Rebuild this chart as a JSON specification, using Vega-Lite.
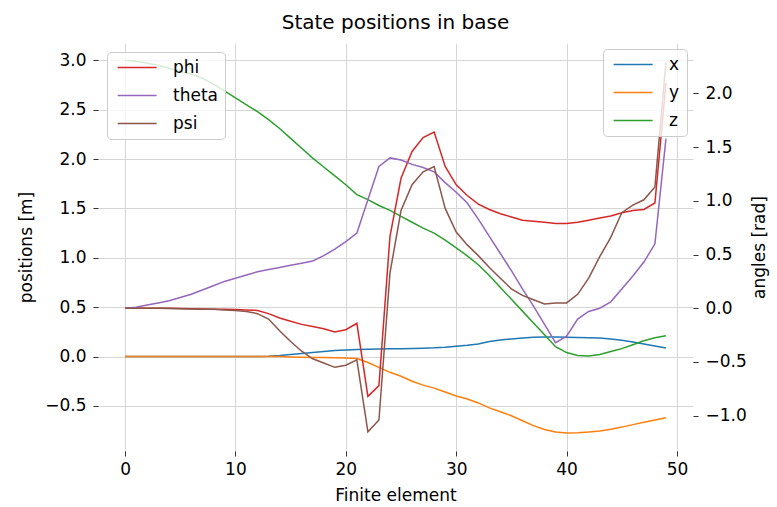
{
  "$schema": "https://vega.github.io/schema/vega-lite/v6.json",
  "width": 595,
  "height": 408,
  "autosize": {"type": "none"},
  "padding": {"left": 98, "top": 43, "right": 84, "bottom": 56},
  "background": "white",
  "title": {"text": "State positions in base", "fontSize": 20, "font": "DejaVu Sans", "fontWeight": "normal", "color": "#000000", "offset": 10},
  "config": {
    "view": {"stroke": null},
    "font": "DejaVu Sans",
    "axis": {
      "labelFont": "DejaVu Sans", "labelFontSize": 17, "labelColor": "#000000",
      "titleFont": "DejaVu Sans", "titleFontSize": 17, "titleFontWeight": "normal", "titleColor": "#000000",
      "domain": false, "tickColor": "#333333", "tickSize": 5, "tickWidth": 1,
      "gridColor": "#d6d6d6", "gridWidth": 1, "labelPadding": 6
    },
    "legend": {
      "labelFont": "DejaVu Sans", "labelFontSize": 17, "labelColor": "#000000",
      "fillColor": "rgba(255,255,255,0.8)", "strokeColor": "#cccccc", "cornerRadius": 4,
      "padding": 7, "offset": 9, "symbolType": "M-1,0H7", "symbolSize": 95, "symbolStrokeWidth": 1.5,
      "labelOffset": 42, "rowPadding": 10
    }
  },
  "datasets": {
    "pos": [
      {"e":0,"s":"x","v":0},{"e":1,"s":"x","v":0},{"e":2,"s":"x","v":0},{"e":3,"s":"x","v":0},{"e":4,"s":"x","v":0},{"e":5,"s":"x","v":0},{"e":6,"s":"x","v":0},{"e":7,"s":"x","v":0},{"e":8,"s":"x","v":0},{"e":9,"s":"x","v":0},
      {"e":10,"s":"x","v":0},{"e":11,"s":"x","v":0},{"e":12,"s":"x","v":0},{"e":13,"s":"x","v":0.003},{"e":14,"s":"x","v":0.01},{"e":15,"s":"x","v":0.02},{"e":16,"s":"x","v":0.03},{"e":17,"s":"x","v":0.04},{"e":18,"s":"x","v":0.05},{"e":19,"s":"x","v":0.06},
      {"e":20,"s":"x","v":0.066},{"e":21,"s":"x","v":0.07},{"e":22,"s":"x","v":0.073},{"e":23,"s":"x","v":0.076},{"e":24,"s":"x","v":0.078},{"e":25,"s":"x","v":0.08},{"e":26,"s":"x","v":0.082},{"e":27,"s":"x","v":0.085},{"e":28,"s":"x","v":0.088},{"e":29,"s":"x","v":0.095},
      {"e":30,"s":"x","v":0.105},{"e":31,"s":"x","v":0.115},{"e":32,"s":"x","v":0.128},{"e":33,"s":"x","v":0.152},{"e":34,"s":"x","v":0.167},{"e":35,"s":"x","v":0.178},{"e":36,"s":"x","v":0.188},{"e":37,"s":"x","v":0.195},{"e":38,"s":"x","v":0.198},{"e":39,"s":"x","v":0.198},
      {"e":40,"s":"x","v":0.195},{"e":41,"s":"x","v":0.193},{"e":42,"s":"x","v":0.19},{"e":43,"s":"x","v":0.187},{"e":44,"s":"x","v":0.178},{"e":45,"s":"x","v":0.165},{"e":46,"s":"x","v":0.148},{"e":47,"s":"x","v":0.128},{"e":48,"s":"x","v":0.107},{"e":49,"s":"x","v":0.086},

      {"e":0,"s":"y","v":0},{"e":1,"s":"y","v":0},{"e":2,"s":"y","v":0},{"e":3,"s":"y","v":0},{"e":4,"s":"y","v":0},{"e":5,"s":"y","v":0},{"e":6,"s":"y","v":0},{"e":7,"s":"y","v":0},{"e":8,"s":"y","v":0},{"e":9,"s":"y","v":0},
      {"e":10,"s":"y","v":0},{"e":11,"s":"y","v":0},{"e":12,"s":"y","v":0},{"e":13,"s":"y","v":0},{"e":14,"s":"y","v":0},{"e":15,"s":"y","v":-0.005},{"e":16,"s":"y","v":-0.008},{"e":17,"s":"y","v":-0.01},{"e":18,"s":"y","v":-0.01},{"e":19,"s":"y","v":-0.012},
      {"e":20,"s":"y","v":-0.015},{"e":21,"s":"y","v":-0.02},{"e":22,"s":"y","v":-0.06},{"e":23,"s":"y","v":-0.11},{"e":24,"s":"y","v":-0.16},{"e":25,"s":"y","v":-0.2},{"e":26,"s":"y","v":-0.25},{"e":27,"s":"y","v":-0.29},{"e":28,"s":"y","v":-0.32},{"e":29,"s":"y","v":-0.36},
      {"e":30,"s":"y","v":-0.4},{"e":31,"s":"y","v":-0.43},{"e":32,"s":"y","v":-0.47},{"e":33,"s":"y","v":-0.52},{"e":34,"s":"y","v":-0.56},{"e":35,"s":"y","v":-0.6},{"e":36,"s":"y","v":-0.65},{"e":37,"s":"y","v":-0.7},{"e":38,"s":"y","v":-0.74},{"e":39,"s":"y","v":-0.765},
      {"e":40,"s":"y","v":-0.775},{"e":41,"s":"y","v":-0.772},{"e":42,"s":"y","v":-0.765},{"e":43,"s":"y","v":-0.755},{"e":44,"s":"y","v":-0.737},{"e":45,"s":"y","v":-0.715},{"e":46,"s":"y","v":-0.69},{"e":47,"s":"y","v":-0.665},{"e":48,"s":"y","v":-0.642},{"e":49,"s":"y","v":-0.62},

      {"e":0,"s":"z","v":3.0},{"e":1,"s":"z","v":2.99},{"e":2,"s":"z","v":2.97},{"e":3,"s":"z","v":2.95},{"e":4,"s":"z","v":2.92},{"e":5,"s":"z","v":2.89},{"e":6,"s":"z","v":2.86},{"e":7,"s":"z","v":2.82},{"e":8,"s":"z","v":2.76},{"e":9,"s":"z","v":2.69},
      {"e":10,"s":"z","v":2.62},{"e":11,"s":"z","v":2.55},{"e":12,"s":"z","v":2.48},{"e":13,"s":"z","v":2.4},{"e":14,"s":"z","v":2.31},{"e":15,"s":"z","v":2.21},{"e":16,"s":"z","v":2.11},{"e":17,"s":"z","v":2.01},{"e":18,"s":"z","v":1.92},{"e":19,"s":"z","v":1.83},
      {"e":20,"s":"z","v":1.74},{"e":21,"s":"z","v":1.64},{"e":22,"s":"z","v":1.59},{"e":23,"s":"z","v":1.53},{"e":24,"s":"z","v":1.48},{"e":25,"s":"z","v":1.42},{"e":26,"s":"z","v":1.36},{"e":27,"s":"z","v":1.3},{"e":28,"s":"z","v":1.25},{"e":29,"s":"z","v":1.18},
      {"e":30,"s":"z","v":1.1},{"e":31,"s":"z","v":1.02},{"e":32,"s":"z","v":0.93},{"e":33,"s":"z","v":0.82},{"e":34,"s":"z","v":0.7},{"e":35,"s":"z","v":0.58},{"e":36,"s":"z","v":0.46},{"e":37,"s":"z","v":0.34},{"e":38,"s":"z","v":0.22},{"e":39,"s":"z","v":0.1},
      {"e":40,"s":"z","v":0.04},{"e":41,"s":"z","v":0.01},{"e":42,"s":"z","v":0.005},{"e":43,"s":"z","v":0.02},{"e":44,"s":"z","v":0.05},{"e":45,"s":"z","v":0.08},{"e":46,"s":"z","v":0.12},{"e":47,"s":"z","v":0.16},{"e":48,"s":"z","v":0.19},{"e":49,"s":"z","v":0.21}
    ],
    "ang": [
      {"e":0,"s":"phi","v":0},{"e":1,"s":"phi","v":0},{"e":2,"s":"phi","v":0},{"e":3,"s":"phi","v":0},{"e":4,"s":"phi","v":0},{"e":5,"s":"phi","v":-0.002},{"e":6,"s":"phi","v":-0.004},{"e":7,"s":"phi","v":-0.006},{"e":8,"s":"phi","v":-0.008},{"e":9,"s":"phi","v":-0.01},
      {"e":10,"s":"phi","v":-0.012},{"e":11,"s":"phi","v":-0.015},{"e":12,"s":"phi","v":-0.02},{"e":13,"s":"phi","v":-0.05},{"e":14,"s":"phi","v":-0.09},{"e":15,"s":"phi","v":-0.12},{"e":16,"s":"phi","v":-0.15},{"e":17,"s":"phi","v":-0.17},{"e":18,"s":"phi","v":-0.19},{"e":19,"s":"phi","v":-0.22},
      {"e":20,"s":"phi","v":-0.2},{"e":21,"s":"phi","v":-0.14},{"e":22,"s":"phi","v":-0.82},{"e":23,"s":"phi","v":-0.72},{"e":24,"s":"phi","v":0.67},{"e":25,"s":"phi","v":1.21},{"e":26,"s":"phi","v":1.46},{"e":27,"s":"phi","v":1.59},{"e":28,"s":"phi","v":1.64},{"e":29,"s":"phi","v":1.32},
      {"e":30,"s":"phi","v":1.15},{"e":31,"s":"phi","v":1.05},{"e":32,"s":"phi","v":0.97},{"e":33,"s":"phi","v":0.92},{"e":34,"s":"phi","v":0.88},{"e":35,"s":"phi","v":0.85},{"e":36,"s":"phi","v":0.82},{"e":37,"s":"phi","v":0.81},{"e":38,"s":"phi","v":0.8},{"e":39,"s":"phi","v":0.79},
      {"e":40,"s":"phi","v":0.79},{"e":41,"s":"phi","v":0.8},{"e":42,"s":"phi","v":0.82},{"e":43,"s":"phi","v":0.84},{"e":44,"s":"phi","v":0.86},{"e":45,"s":"phi","v":0.89},{"e":46,"s":"phi","v":0.91},{"e":47,"s":"phi","v":0.92},{"e":48,"s":"phi","v":0.98},{"e":49,"s":"phi","v":2.1},

      {"e":0,"s":"theta","v":0},{"e":1,"s":"theta","v":0.01},{"e":2,"s":"theta","v":0.03},{"e":3,"s":"theta","v":0.05},{"e":4,"s":"theta","v":0.07},{"e":5,"s":"theta","v":0.1},{"e":6,"s":"theta","v":0.13},{"e":7,"s":"theta","v":0.17},{"e":8,"s":"theta","v":0.21},{"e":9,"s":"theta","v":0.25},
      {"e":10,"s":"theta","v":0.28},{"e":11,"s":"theta","v":0.31},{"e":12,"s":"theta","v":0.34},{"e":13,"s":"theta","v":0.36},{"e":14,"s":"theta","v":0.38},{"e":15,"s":"theta","v":0.4},{"e":16,"s":"theta","v":0.42},{"e":17,"s":"theta","v":0.44},{"e":18,"s":"theta","v":0.49},{"e":19,"s":"theta","v":0.55},
      {"e":20,"s":"theta","v":0.62},{"e":21,"s":"theta","v":0.7},{"e":22,"s":"theta","v":1.01},{"e":23,"s":"theta","v":1.32},{"e":24,"s":"theta","v":1.4},{"e":25,"s":"theta","v":1.38},{"e":26,"s":"theta","v":1.34},{"e":27,"s":"theta","v":1.31},{"e":28,"s":"theta","v":1.27},{"e":29,"s":"theta","v":1.17},
      {"e":30,"s":"theta","v":1.08},{"e":31,"s":"theta","v":0.98},{"e":32,"s":"theta","v":0.83},{"e":33,"s":"theta","v":0.67},{"e":34,"s":"theta","v":0.51},{"e":35,"s":"theta","v":0.35},{"e":36,"s":"theta","v":0.18},{"e":37,"s":"theta","v":0.02},{"e":38,"s":"theta","v":-0.15},{"e":39,"s":"theta","v":-0.32},
      {"e":40,"s":"theta","v":-0.26},{"e":41,"s":"theta","v":-0.1},{"e":42,"s":"theta","v":-0.03},{"e":43,"s":"theta","v":0},{"e":44,"s":"theta","v":0.06},{"e":45,"s":"theta","v":0.18},{"e":46,"s":"theta","v":0.3},{"e":47,"s":"theta","v":0.43},{"e":48,"s":"theta","v":0.6},{"e":49,"s":"theta","v":1.58},

      {"e":0,"s":"psi","v":0},{"e":1,"s":"psi","v":0},{"e":2,"s":"psi","v":0},{"e":3,"s":"psi","v":0},{"e":4,"s":"psi","v":-0.002},{"e":5,"s":"psi","v":-0.004},{"e":6,"s":"psi","v":-0.006},{"e":7,"s":"psi","v":-0.008},{"e":8,"s":"psi","v":-0.01},{"e":9,"s":"psi","v":-0.015},
      {"e":10,"s":"psi","v":-0.02},{"e":11,"s":"psi","v":-0.03},{"e":12,"s":"psi","v":-0.05},{"e":13,"s":"psi","v":-0.1},{"e":14,"s":"psi","v":-0.21},{"e":15,"s":"psi","v":-0.31},{"e":16,"s":"psi","v":-0.4},{"e":17,"s":"psi","v":-0.47},{"e":18,"s":"psi","v":-0.51},{"e":19,"s":"psi","v":-0.55},
      {"e":20,"s":"psi","v":-0.53},{"e":21,"s":"psi","v":-0.48},{"e":22,"s":"psi","v":-1.15},{"e":23,"s":"psi","v":-1.04},{"e":24,"s":"psi","v":0.33},{"e":25,"s":"psi","v":0.91},{"e":26,"s":"psi","v":1.15},{"e":27,"s":"psi","v":1.27},{"e":28,"s":"psi","v":1.32},{"e":29,"s":"psi","v":0.93},
      {"e":30,"s":"psi","v":0.71},{"e":31,"s":"psi","v":0.59},{"e":32,"s":"psi","v":0.49},{"e":33,"s":"psi","v":0.38},{"e":34,"s":"psi","v":0.28},{"e":35,"s":"psi","v":0.18},{"e":36,"s":"psi","v":0.12},{"e":37,"s":"psi","v":0.08},{"e":38,"s":"psi","v":0.04},{"e":39,"s":"psi","v":0.05},
      {"e":40,"s":"psi","v":0.05},{"e":41,"s":"psi","v":0.13},{"e":42,"s":"psi","v":0.28},{"e":43,"s":"psi","v":0.48},{"e":44,"s":"psi","v":0.66},{"e":45,"s":"psi","v":0.89},{"e":46,"s":"psi","v":0.96},{"e":47,"s":"psi","v":1.01},{"e":48,"s":"psi","v":1.13},{"e":49,"s":"psi","v":2.29}
    ]
  },
  "layer": [
    {
      "data": {"name": "pos"},
      "mark": {"type": "line", "strokeWidth": 1.5},
      "encoding": {
        "x": {"field": "e", "type": "quantitative",
              "scale": {"domain": [-2.45, 51.45], "nice": false, "zero": false},
              "axis": {"title": "Finite element", "values": [0, 10, 20, 30, 40, 50], "labelPadding": 5, "titlePadding": 10}},
        "y": {"field": "v", "type": "quantitative",
              "scale": {"domain": [-0.957, 3.176], "nice": false, "zero": false},
              "axis": {"title": "positions [m]", "orient": "left", "values": [-0.5, 0, 0.5, 1, 1.5, 2, 2.5, 3], "format": ".1f", "labelPadding": 7, "titlePadding": 9}},
        "color": {"field": "s", "type": "nominal",
                  "scale": {"domain": ["x", "y", "z"], "range": ["#1f77b4", "#ff7f0e", "#2ca02c"]},
                  "legend": {"title": null, "orient": "top-right", "offset": 6}}
      }
    },
    {
      "data": {"name": "ang"},
      "mark": {"type": "line", "strokeWidth": 1.5},
      "encoding": {
        "x": {"field": "e", "type": "quantitative",
              "scale": {"domain": [-2.45, 51.45], "nice": false, "zero": false}},
        "y": {"field": "v", "type": "quantitative",
              "scale": {"domain": [-1.329, 2.47], "nice": false, "zero": false},
              "axis": {"title": "angles [rad]", "orient": "right", "titleAngle": 270, "titleBaseline": "bottom", "values": [-1, -0.5, 0, 0.5, 1, 1.5, 2], "format": ".1f", "labelPadding": 7, "titlePadding": 22}},
        "color": {"field": "s", "type": "nominal",
                  "scale": {"domain": ["phi", "theta", "psi"], "range": ["#d62728", "#9467bd", "#8c564b"]},
                  "legend": {"title": null, "orient": "top-left"}}
      }
    }
  ],
  "resolve": {"scale": {"y": "independent", "color": "independent"}}
}
